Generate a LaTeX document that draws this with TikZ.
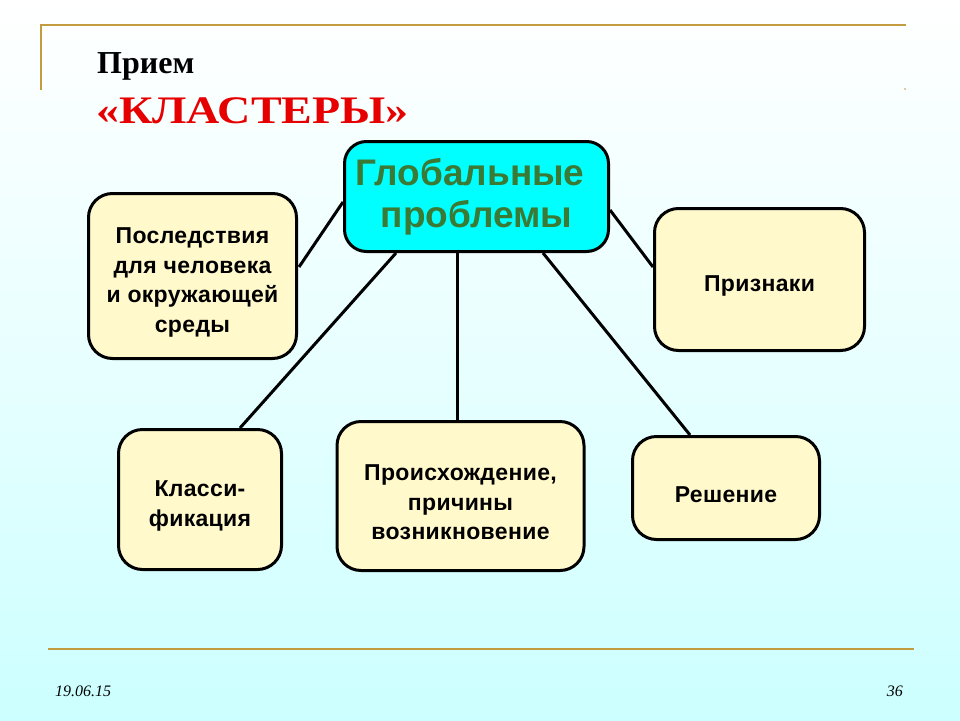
\documentclass[tikz,border=0pt]{standalone}
\usepackage{fontspec}
\setmainfont{Liberation Serif}
\newfontfamily\arialb{Liberation Sans}[BoldFont={Liberation Sans Bold}]
\newfontfamily\titlewide{Liberation Serif}[BoldFont={Liberation Serif Bold}, FakeStretch=1.18]
\usetikzlibrary{calc}
\definecolor{goldline}{RGB}{194,156,62}
\definecolor{cream}{RGB}{255,249,204}
\definecolor{cyanbox}{RGB}{0,255,255}
\definecolor{greentext}{RGB}{58,122,52}
\definecolor{bgbottom}{RGB}{204,255,255}
\definecolor{titlered}{RGB}{230,0,0}
\newcommand{\dnstrut}{\rule{0pt}{29pt}}
\tikzset{
  cbox/.style={draw=black, line width=3pt, rounded corners=24pt, fill=cream, inner sep=0pt,
    align=center, font=\arialb\bfseries\fontsize{23}{29.5}\selectfont\addfontfeature{LetterSpace=1.5}},
  centerbox/.style={draw=black, line width=3pt, rounded corners=22pt, fill=cyanbox, inner sep=0pt,
    align=center, text=greentext, font=\arialb\bfseries\fontsize{37}{42}\selectfont},
  link/.style={draw=black, line width=3pt},
  frameline/.style={draw=goldline, line width=2pt}
}
\begin{document}
\begin{tikzpicture}[x=1pt,y=1pt]
\shade[top color=white, bottom color=bgbottom, middle color={rgb,255:red,232;green,255;blue,255}] (0,0) rectangle (960,-720);
\useasboundingbox (0,0) rectangle (960,-720);
% frame lines
\draw[frameline] (41,-90) -- (41,-25) -- (906,-25);
\fill[goldline] (905,-89) circle (0.8pt);
\draw[frameline] (48,-649) -- (914,-649);
% title
\node[anchor=base west, inner sep=0pt, font=\bfseries\fontsize{32}{36}\selectfont] (t1) at (97,-73) {Прием};
\node[anchor=base west, inner sep=0pt, text=titlered, font=\titlewide\bfseries\fontsize{39}{42}\selectfont] (t2) at (96,-123) {«КЛАСТЕРЫ»};
% footer
\node[anchor=base west, inner sep=0pt, font=\itshape\fontsize{16}{18}\selectfont] (date) at (55,-696) {19.06.15};
\node[anchor=base east, inner sep=0pt, font=\itshape\fontsize{16}{18}\selectfont] (page) at (903,-696) {36};
% boxes
\node[centerbox, minimum width=264pt, minimum height=110pt] (c) at (476.5,-196.5) {Глобальные\hspace*{13pt}\\проблемы};
\node[cbox, minimum width=208pt, minimum height=165pt] (lt) at (192.5,-276) {\dnstrut Последствия\\для человека\\и окружающей\\среды};
\node[cbox, minimum width=210pt, minimum height=142pt] (rt) at (759.5,-279.5) {\dnstrut Признаки};
\node[cbox, minimum width=163pt, minimum height=140pt] (lb) at (200,-499.5) {\dnstrut Класси-\\фикация};
\node[cbox, minimum width=247pt, minimum height=149pt] (mb) at (460.5,-496) {\dnstrut Происхождение,\\причины\\возникновение};
\node[cbox, minimum width=187pt, minimum height=103pt] (rb) at (726,-488) {\dnstrut Решение};
% connectors
\draw[link] ($(c.west)+(0,-5.5)$) -- ($(lt.east)+(1,9)$);
\draw[link] ($(c.south)+(-80.5,0)$) -- ($(lb.north)+(40,0)$);
\draw[link] ($(c.south)+(-19.5,0)$) -- ($(mb.north)+(-3.5,0)$);
\draw[link] ($(c.south)+(66.5,0)$) -- ($(rb.north)+(-36,0)$);
\draw[link] ($(c.east)+(0,-13.5)$) -- ($(rt.west)+(0,12.5)$);
\end{tikzpicture}
\end{document}
